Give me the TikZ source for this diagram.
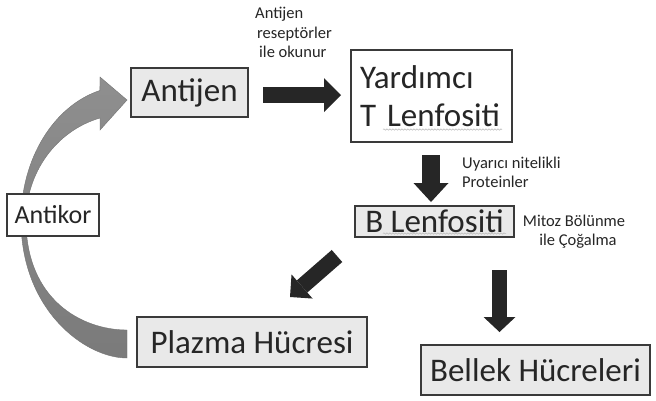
\documentclass[tikz,border=0pt]{standalone}
\usepackage{fontspec}
\setmainfont{Carlito}
\usetikzlibrary{arrows.meta,calc,decorations.pathmorphing}
\definecolor{txt}{HTML}{262626}
\definecolor{boxfill}{HTML}{E9E9E9}
\definecolor{boxline}{HTML}{3A3A3A}
\definecolor{arrowdark}{HTML}{262626}
\begin{document}
\begin{tikzpicture}[x=1pt,y=-1pt,
  every node/.style={text=txt},
  bigfont/.style={font=\fontsize{33}{38.5}\selectfont},
  graybox/.style={draw=boxline, line width=1.3pt, fill=boxfill, inner sep=0pt, bigfont},
  whitebox/.style={draw=boxline, line width=1.7pt, fill=white, inner sep=0pt},
  small/.style={font=\fontsize{16.5}{19.5}\selectfont, inner sep=0pt},
  blockarr/.style={line width=#1, draw=arrowdark},
  squig/.style={decorate, decoration={snake, amplitude=0.7pt, segment length=3pt}, draw=black!28, line width=0.5pt},
  curvefill/.style={top color=black!44, bottom color=black!52, draw=black!55, line width=0.4pt}
]
\fill[white] (0,0) rectangle (656,400);
\useasboundingbox (0,0) rectangle (656,400);

% curved gray arrow (Plazma Hucresi -> Antijen)
\path[curvefill] (127,358)
  .. controls (85,358) and (21,310) .. (21,220)
  arc[start angle=180, end angle=255.2, x radius=106, y radius=134]
  -- (100,77) -- (127,100) -- (100,130) -- (100,118)
  arc[start angle=254.5, end angle=180, x radius=101, y radius=106]
  .. controls (26,300) and (82,330) .. (127,330)
  -- cycle;

% boxes
\node[graybox, minimum width=117pt, minimum height=49pt] (antijen) at (189.5,92.5) {Antijen};
\node[whitebox, bigfont, text width=143pt, inner xsep=9pt, align=left, minimum height=92pt] (yard) at (431.5,96) {Yardımcı\\T Lenfositi};
\node[graybox, minimum width=159pt, minimum height=31pt] (blenf) at (434.5,221.5) {B Lenfositi};
\node[graybox, minimum width=230pt, minimum height=50pt] (plazma) at (252,342) {Plazma Hücresi};
\node[graybox, minimum width=229pt, minimum height=50pt] (bellek) at (535.5,370) {Bellek Hücreleri};
\node[whitebox, line width=1.4pt, minimum width=92pt, minimum height=42pt, font=\fontsize{26}{30}\selectfont] (antikor) at (53,215) {Antikor};

% spell-check squiggles
\draw[squig] (383,129.5) -- (502,129.5);
\draw[squig] (383,233.5) -- (506,233.5);

% block arrows
\coordinate (r1) at (263,95);   \coordinate (r2) at (341,95);
\coordinate (d1) at (431,155);  \coordinate (d2) at (431,202);
\coordinate (g1) at (337,256);  \coordinate (g2) at (290,297);
\coordinate (m1) at (499.5,270); \coordinate (m2) at (499.5,332);
\draw[blockarr=16pt, -{Triangle[length=17pt,width=34pt,line width=0pt]}] (r1) -- (r2);
\draw[blockarr=18pt, -{Triangle[length=19pt,width=35pt,line width=0pt]}] (d1) -- (d2);
\draw[blockarr=16pt, -{Triangle[length=16pt,width=32pt,line width=0pt]}] (g1) -- (g2);
\draw[blockarr=15pt, -{Triangle[length=15pt,width=32pt,line width=0pt]}] (m1) -- (m2);

% small labels
\node[small, anchor=base west] (l1a) at (255,18) {Antijen};
\node[small, anchor=base west] (l1b) at (257,38) {reseptörler};
\node[small, anchor=base west] (l1c) at (259,57.5) {ile okunur};
\node[small, anchor=base west] (l2a) at (462,168) {Uyarıcı nitelikli};
\node[small, anchor=base west] (l2b) at (462,187) {Proteinler};
\node[small, anchor=base] (l3a) at (574,226) {Mitoz Bölünme};
\node[small, anchor=base] (l3b) at (578,245.5) {ile Çoğalma};
\end{tikzpicture}
\end{document}
